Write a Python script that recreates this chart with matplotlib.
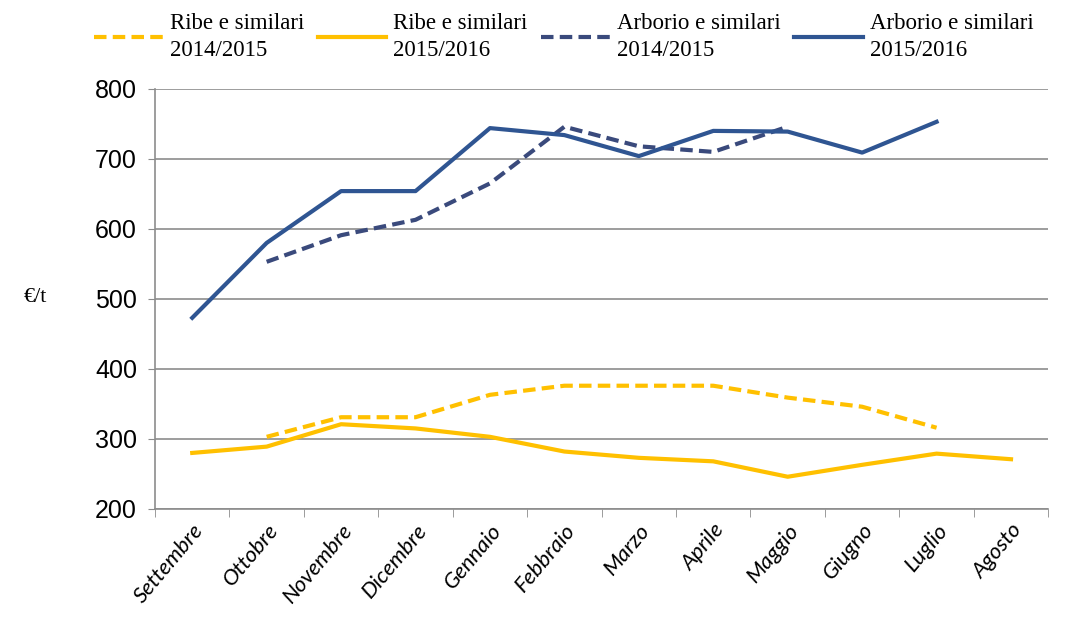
import matplotlib
matplotlib.use("Agg")
import matplotlib.pyplot as plt
import numpy as np

mesi = ["Settembre", "Ottobre", "Novembre", "Dicembre", "Gennaio", "Febbraio",
        "Marzo", "Aprile", "Maggio", "Giugno", "Luglio", "Agosto"]

nan = np.nan
ribe_1415 = [nan, 303, 331, 331, 363, 376, 376, 376, 359, 346, 316, nan]
ribe_1516 = [280, 289, 321, 315, 303, 282, 273, 268, 246, 263, 279, 271]
arborio_1415 = [nan, 553, 591, 613, 665, 746, 718, 710, 746, nan, nan, nan]
arborio_1516 = [473, 580, 654, 654, 744, 734, 704, 740, 739, 709, 753, nan]

giallo = "#FFC000"
blu = "#2F5592"
blu_scuro = "#3A4A7C"

fig = plt.figure(figsize=(10.84, 6.26), dpi=100)
ax = fig.add_axes([0.143, 0.187, 0.824, 0.671])

x = np.arange(len(mesi))
ax.plot(x, ribe_1415, color=giallo, lw=3, ls=(0, (3, 1.5)), label="Ribe e similari\n2014/2015")
ax.plot(x, ribe_1516, color=giallo, lw=3, label="Ribe e similari\n2015/2016")
ax.plot(x, arborio_1415, color=blu_scuro, lw=3, ls=(0, (3, 1.5)), label="Arborio e similari\n2014/2015")
ax.plot(x, arborio_1516, color=blu, lw=3, label="Arborio e similari\n2015/2016")

ax.set_xlim(-0.5, len(mesi) - 0.5)
ax.set_ylim(200, 800)
ax.set_yticks(range(200, 801, 100))
ax.set_yticklabels([str(v) for v in range(200, 801, 100)], fontsize=18, family="Liberation Sans")
ax.grid(axis="y", color="#8c8c8c", lw=1.2)
ax.set_axisbelow(True)

ax.set_xticks(x)
ax.set_xticklabels(mesi, rotation=50, ha="right", rotation_mode="anchor",
                   fontsize=16, family="Lato", style="italic")
ax.set_xticks(np.arange(-0.5, len(mesi)), minor=True)
ax.tick_params(axis="x", which="major", length=0, pad=8)
ax.tick_params(axis="x", which="minor", length=6, color="#8c8c8c")
ax.tick_params(axis="y", length=5, color="#8c8c8c", pad=8)

for s in ["top", "right"]:
    ax.spines[s].set_visible(False)
for s in ["left", "bottom"]:
    ax.spines[s].set_color("#8c8c8c")
    ax.spines[s].set_linewidth(1.2)

fig.text(0.022, 0.525, "€/t", fontsize=16, family="Liberation Serif", va="center")

leg = fig.legend(loc="upper center", bbox_to_anchor=(0.52, 1.012), ncol=4, frameon=False,
                 prop={"family": "Liberation Serif", "size": 16.5}, handlelength=3.0,
                 handletextpad=0.3, columnspacing=0.6, labelspacing=0.2)
for t in leg.get_texts():
    t.set_linespacing(1.35)

fig.savefig("out.png", dpi=100)
